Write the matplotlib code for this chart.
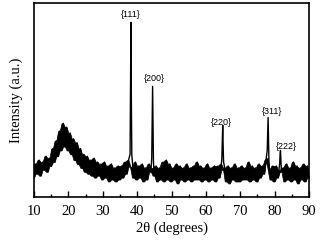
import numpy as np
import matplotlib; matplotlib.use("Agg")
import matplotlib.pyplot as plt
from matplotlib.ticker import MultipleLocator

# background (amorphous hump + noise), read every 0.5 deg from 10 to 90
TT_STEP=0.5
I_BG=[10,17,12,19,11,18,14,21,13,20,
      16,25,18,29,21,34,24,38,26,36,
      24,33,22,30,19,28,17,25,15,22,
      13,21,12,19,11,20,10,18,11,17,
      9,18,10,16,8,17,9,15,8,16,
      9,16,10,18,12,19,16,15,10,18,
      9,16,10,17,8,15,9,17,13,15,
      11,16,8,15,9,18,8,19,9,17,
      8,15,9,17,7,16,9,15,8,17,
      9,15,8,16,9,18,9,16,8,15,
      9,17,8,15,9,16,8,16,10,17,
      14,15,8,16,7,15,9,17,8,15,
      8,16,9,15,9,18,8,16,9,15,
      8,17,10,16,12,19,20,14,9,16,
      8,16,10,14,13,15,8,17,9,15,
      8,18,9,16,7,15,9,17,8,16,
      10]
TT_BG=10+TT_STEP*np.arange(len(I_BG))

# sharp reflections
PEAK_POS=[38.2,44.5,64.9,78.1,81.7]
PEAK_LBL=["{111}","{200}","{220}","{311}","{222}"]
PEAK_X=[37.95,38.1,38.2,38.3,38.45,
        44.25,44.4,44.5,44.6,44.75,
        64.65,64.8,64.9,65.0,65.15,
        77.85,78.0,78.1,78.2,78.35,
        81.45,81.6,81.7,81.8,81.95]
PEAK_Y=[22,60,90,55,22,
        20,45,57,40,18,
        20,30,37,28,18,
        24,35,41,32,18,
        17,22,24,20,14]
LBL_X=[38.2,44.9,64.5,79.2,83.3]
LBL_Y=[92,59,36,41.5,23.5]

bg=np.array(I_BG,float)
nxt=np.append(bg[1:],bg[-1])
lo=np.minimum(bg,nxt); hi=np.maximum(bg,nxt)

keep=np.all([np.abs(TT_BG-c)>0.3 for c in PEAK_POS],axis=0)
x=np.concatenate([TT_BG[keep],PEAK_X]); y=np.concatenate([bg[keep],PEAK_Y])
o=np.argsort(x); x=x[o]; y=y[o]

fig=plt.figure(figsize=(3.2,2.44),dpi=100)
ax=fig.add_axes([34/320,47/244,275/320,194/244])
ax.fill_between(TT_BG,lo,hi,color="k",lw=0.5,edgecolor="k")
ax.plot(x,y,color="k",lw=1.0)
for lx,ly,t in zip(LBL_X,LBL_Y,PEAK_LBL):
    ax.text(lx,ly,t,ha="center",va="bottom",fontsize=6.5,family="Liberation Sans")
ax.set_xlim(10,90); ax.set_ylim(0,100)
ax.xaxis.set_major_locator(MultipleLocator(10)); ax.xaxis.set_minor_locator(MultipleLocator(5))
ax.tick_params(axis="x",which="major",direction="in",length=4,width=1,pad=6)
ax.tick_params(axis="x",which="minor",direction="in",length=2,width=1)
ax.set_yticks([])
for s in ax.spines.values(): s.set_linewidth(1.2)
for t in ax.get_xticklabels(): t.set_fontfamily("Liberation Serif"); t.set_fontsize(10.5)
ax.set_xlabel("2θ (degrees)",family="Liberation Serif",fontsize=10.5,labelpad=2)
ax.set_ylabel("Intensity (a.u.)",family="Liberation Serif",fontsize=10.5,labelpad=8)
fig.savefig("out.png",dpi=100)
